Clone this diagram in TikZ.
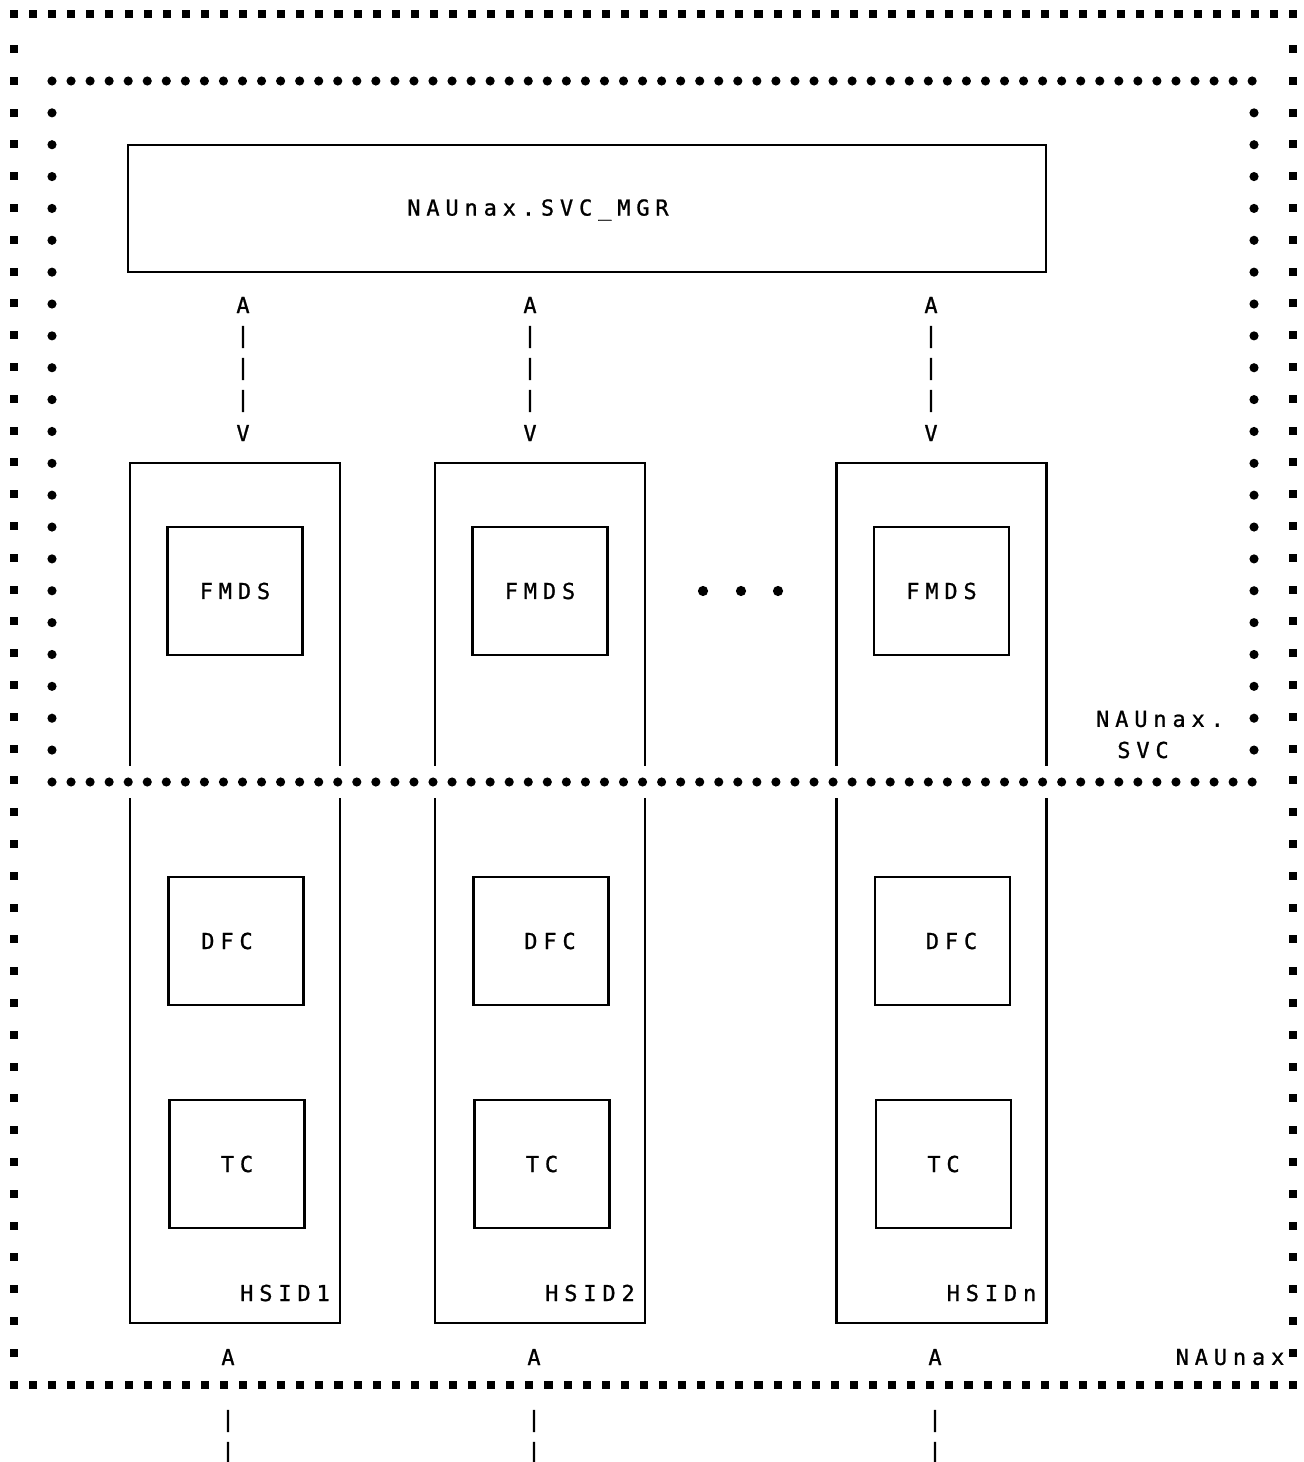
\documentclass[tikz,border=0pt]{standalone}
\usepackage{fontspec}
\setmonofont{DejaVu Sans Mono}[LetterSpace=26.7,FakeBold=1]
\usetikzlibrary{positioning}

\begin{document}
\begin{tikzpicture}[x=0.02cm,y=-0.02cm,
  every node/.style={font=\ttfamily\fontsize{12.5}{15}\selectfont,inner sep=0pt},
  box/.style={draw,line width=1.3pt},
  colbox/.style={box,minimum width=4.2cm,minimum height=17.2cm},
  inbox/.style={box,minimum width=2.7cm,minimum height=2.56cm}]
  \useasboundingbox (0,0) rectangle (1303,1462);
  % service manager
  \node[box,minimum width=18.36cm,minimum height=2.54cm] (mgr) at (587,208.5) {};
  \node (mgrtext) at (538,210) {NAUnax.SVC\_MGR};
  % one column per HSID
  \foreach \n/\cx/\d in {1/235/-8,2/540/10,n/941.5/10}{
    \node[colbox] (hsid\n) at (\cx,893) {};
    \node[inbox] (fmds\n) at (\cx,591) {FMDS};
    \node[inbox] (dfc\n) at ({\cx+1},941) {};
    \node (dfctext\n) at ({\cx+\d},941) {DFC};
    \node[inbox] (tc\n) at ({\cx+2},1164) {TC};
    \node (hsidtext\n) at ({\cx+50},1293) {HSID\n};}
  % ascii arrows
  \foreach \n/\ax/\bx in {1/243/228,2/530/534,3/931/935}{
    \node (up\n) at (\ax,305) {A};
    \foreach \y in {337,369,401} \node (bar\n\y) at (\ax,\y) {|};
    \node (down\n) at (\ax,433) {V};
    \node (out\n) at (\bx,1357) {A};
    \foreach \y in {1421,1453} \node (obar\n\y) at (\bx,\y) {|};}
  \foreach \x in {703,741,778} \fill (\x,591) circle (2.9pt);
  % gap in the columns at the dotted line
  \fill[white] (40,766) rectangle (1265,798);
  % NAUnax.SVC: round dots
  \foreach \i in {0,...,63}{
    \pgfmathsetmacro\x{52+\i*19.05}
    \foreach \y in {81,782} \fill (\x,\y) circle (2.6pt);}
  \foreach \j in {1,...,21}{
    \pgfmathsetmacro\y{81+\j*31.86}
    \foreach \x in {52,1254} \fill (\x,\y) circle (2.6pt);}
  \node (svcname) at (1160,719) {NAUnax.};
  \node (svcname2) at (1143,750) {SVC};
  % NAUnax: square dots
  \foreach \i in {0,...,67}{
    \pgfmathsetmacro\x{14+\i*19.09}
    \foreach \y in {14,1385} \fill (\x,\y) ++(-2.3pt,-2.3pt) rectangle ++(4.6pt,4.6pt);}
  \foreach \j in {0,...,41}{
    \pgfmathsetmacro\y{49+\j*31.8}
    \foreach \x in {14,1293} \fill (\x,\y) ++(-2.3pt,-2.3pt) rectangle ++(4.6pt,4.6pt);}
  \node (nauname) at (1230,1357) {NAUnax};
\end{tikzpicture}
\end{document}
